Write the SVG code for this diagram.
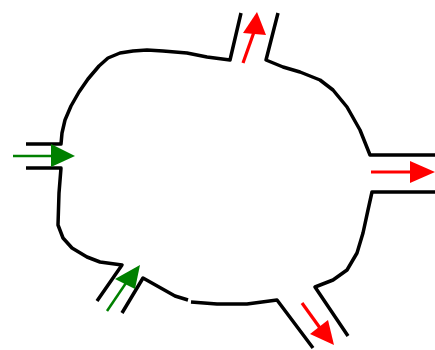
<svg xmlns="http://www.w3.org/2000/svg" width="435" height="350" viewBox="0 0 435 350">
<style>
.wall{fill:none;stroke:#000;stroke-width:3.5;stroke-linejoin:round;stroke-linecap:butt}
.g{fill:none;stroke:#008000;stroke-width:2.5}
.gh{fill:#008000}
.r{fill:none;stroke:#ff0000;stroke-width:3.2}
.rh{fill:#ff0000}
</style>
<rect width="435" height="350" fill="#fff"/>
<g id="chamber">
<path class="wall" d="M26,144 L61,144 L62,133 L65,120 L71,106 L79,92 L88,79 L99,66 L108,58 L120,53 L133,51 L147,50 L163,51 L187,53 L207,57 L230,60 L241,13"/>
<path class="wall" d="M278,13 L266,60 L283,67 L300,72 L320,80 L333,90 L347,107 L360,130 L370,155 L435,155"/>
<path class="wall" d="M435,192 L372,192 L368,210 L363,233 L357,253 L347,270 L333,280 L315,287 L348,336"/>
<path class="wall" d="M313,348 L277,300 L247,304 L217,304 L191,302"/>
<path class="wall" d="M188,300 L175,296 L143,278 L122,313"/>
<path class="wall" d="M97,301 L122,265 L100,262 L87,257 L72,248 L63,238 L58,225 L59,193 L61,168 L26,168"/>
</g>
<g id="connectors">
<g id="in-left">
<line class="g" x1="13" y1="156" x2="53" y2="156"/>
<polygon class="gh" points="51,144 75,156 51,167"/>
</g>
<g id="in-bottom-left">
<line class="g" x1="107" y1="311" x2="126" y2="283"/>
<polygon class="gh" points="140,265 115,279 135,289"/>
</g>
<g id="out-top">
<line class="r" x1="243" y1="63" x2="254" y2="32"/>
<polygon class="rh" points="257,12 243,33 266,35"/>
</g>
<g id="out-right">
<line class="r" x1="371" y1="172" x2="412" y2="172"/>
<polygon class="rh" points="410,161 435,172 410,183"/>
</g>
<g id="out-bottom-right">
<line class="r" x1="302" y1="303" x2="320" y2="328"/>
<polygon class="rh" points="334,345 310,334 328,320"/>
</g>
</g>
</svg>
